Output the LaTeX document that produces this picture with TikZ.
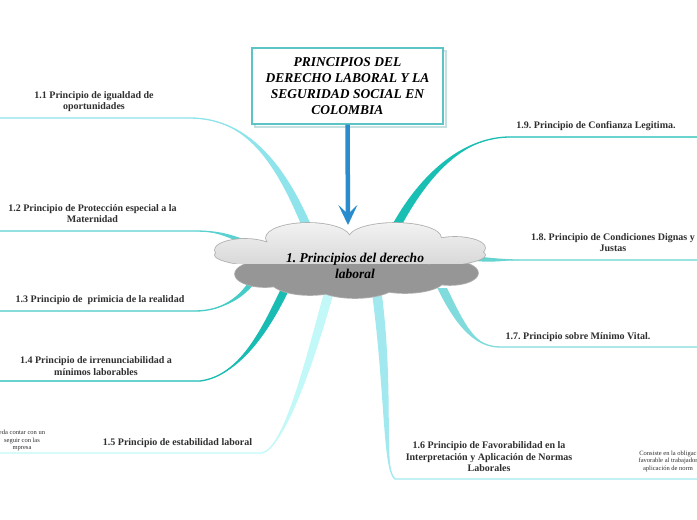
\documentclass[tikz,border=0pt]{standalone}
\usepackage{fontspec}
\setmainfont{Liberation Serif}
\usetikzlibrary{calc,arrows.meta}
\frenchspacing
\definecolor{cA}{HTML}{8FE3EA}
\definecolor{cB}{HTML}{5AD2D2}
\definecolor{cC}{HTML}{45CCC6}
\definecolor{cD}{HTML}{18BCB2}
\definecolor{cE}{HTML}{C2F8F8}
\definecolor{cF}{HTML}{A2E9EF}
\definecolor{cG}{HTML}{80DCDC}
\definecolor{cH}{HTML}{66D4D0}
\definecolor{cI}{HTML}{1ABFB4}
\definecolor{txt}{HTML}{2F2F2F}
\definecolor{boxline}{HTML}{5CC4C4}
\definecolor{boxshadow}{HTML}{C4E0E0}
\definecolor{arrowblue}{HTML}{2A8CCC}
\definecolor{cloudline}{HTML}{AFAFAF}
\definecolor{cloudtop}{HTML}{F2F2F2}
\definecolor{cloudmid}{HTML}{D4D4D4}
\definecolor{clouddark}{HTML}{969696}
\newcommand\tbranch[7]{%
  \fill[#1] (#3) .. controls (#4) and (#5) .. (#6) -- ($(#6)+(#7)$) .. controls ($(#5)+(#7)$) and (#4) .. (#3) -- cycle;
  \draw[#1, line width=1.3pt] (#2) -- (#3) .. controls (#4) and (#5) .. (#6);
}
\tikzset{
  lbl/.style={font=\fontsize{10}{11.5}\selectfont\bfseries, text=txt, align=center, inner sep=0pt},
  smalltxt/.style={font=\fontsize{6.5}{7.5}\selectfont, text=txt, align=center, inner sep=0pt},
  ttl/.style={font=\fontsize{13.5}{16}\selectfont\bfseries\itshape, align=center, draw=boxline, line width=1.2pt, fill=white, minimum width=191pt, minimum height=76pt, inner sep=0pt},
  cloudtxt/.style={font=\fontsize{13.5}{16}\selectfont\bfseries\itshape, align=center, inner sep=0pt},
  mainarrow/.style={draw=arrowblue, line width=4.5pt, -{Stealth[length=20pt, width=19pt, inset=9pt, fill=arrowblue]}}
}
\begin{document}
\begin{tikzpicture}[x=1pt,y=-1pt]
\useasboundingbox (0,0) rectangle (697,520);
\clip (0,0) rectangle (697,520);
\fill[white] (0,0) rectangle (697,520);
% coordinates
\coordinate (l11) at (0,118);   \coordinate (a11) at (190,118); \coordinate (b11) at (314,234);
\coordinate (l12) at (0,231);   \coordinate (a12) at (195,231); \coordinate (b12) at (258,246);
\coordinate (l13) at (0,311);   \coordinate (a13) at (195,311); \coordinate (b13) at (252,278);
\coordinate (l14) at (0,381);   \coordinate (a14) at (200,381); \coordinate (b14) at (282,288);
\coordinate (l15) at (0,453);   \coordinate (a15) at (262,453); \coordinate (b15) at (326,288);
\coordinate (l16) at (697,479); \coordinate (a16) at (395,479); \coordinate (b16) at (372,288);
\coordinate (l17) at (697,347); \coordinate (a17) at (500,347); \coordinate (b17) at (438,288);
\coordinate (l18) at (697,260); \coordinate (a18) at (520,260); \coordinate (b18) at (476,257);
\coordinate (l19) at (697,137); \coordinate (a19) at (510,137); \coordinate (b19) at (388,234);
% branches
\tbranch{cA}{l11}{a11}{250,118}{288,170}{b11}{-9,0}
\tbranch{cB}{l12}{a12}{220,231}{236,236}{b12}{0,5}
\tbranch{cC}{l13}{a13}{222,311}{240,298}{b13}{6,0}
\tbranch{cD}{l14}{a14}{240,376}{262,330}{b14}{8,0}
\tbranch{cE}{l15}{a15}{285,448}{306,360}{b15}{9,0}
\tbranch{cF}{l16}{a16}{383,470}{386,390}{b16}{9,0}
\tbranch{cG}{l17}{a17}{475,347}{456,325}{b17}{9,0}
\tbranch{cH}{l18}{a18}{505,260}{495,259}{b18}{0,4}
\tbranch{cI}{l19}{a19}{468,137}{422,168}{b19}{9,0}
% cloud bottom (dark)
\begin{scope}
  \clip (200,262) rectangle (500,320);
  \draw[cloudline, line width=1.6pt]
    (265,274) ellipse [x radius=30pt, y radius=13pt]
    (310,280) ellipse [x radius=40pt, y radius=15pt]
    (355,283) ellipse [x radius=42pt, y radius=15pt]
    (405,279) ellipse [x radius=40pt, y radius=14pt]
    (450,273) ellipse [x radius=28pt, y radius=12pt]
    (355,272) ellipse [x radius=115pt, y radius=10pt];
  \fill[clouddark]
    (265,274) ellipse [x radius=30pt, y radius=13pt]
    (310,280) ellipse [x radius=40pt, y radius=15pt]
    (355,283) ellipse [x radius=42pt, y radius=15pt]
    (405,279) ellipse [x radius=40pt, y radius=14pt]
    (450,273) ellipse [x radius=28pt, y radius=12pt]
    (355,272) ellipse [x radius=115pt, y radius=10pt];
\end{scope}
% cloud top (light)
\begin{scope}
  \clip (200,200) rectangle (500,263.3);
  \draw[cloudline, line width=1.6pt]
    (350,255) ellipse [x radius=135pt, y radius=16pt]
    (308,238) ellipse [x radius=42pt, y radius=15pt]
    (395,238) ellipse [x radius=46pt, y radius=15pt]
    (245,250) ellipse [x radius=30pt, y radius=11pt]
    (455,248) ellipse [x radius=30pt, y radius=11pt];
  \shade[top color=cloudtop, bottom color=cloudmid]
    (350,255) ellipse [x radius=135pt, y radius=16pt]
    (308,238) ellipse [x radius=42pt, y radius=15pt]
    (395,238) ellipse [x radius=46pt, y radius=15pt]
    (245,250) ellipse [x radius=30pt, y radius=11pt]
    (455,248) ellipse [x radius=30pt, y radius=11pt];
\end{scope}
\node[cloudtxt] (cloud) at (355,266) {1. Principios del derecho\\laboral};
\coordinate (cloudtopc) at (348,225);
% title
\draw[boxshadow, line width=1.2pt, fill=white] (255,51) rectangle (446,127);
\node[ttl] (title) at (347.5,86) {PRINCIPIOS DEL\\DERECHO LABORAL Y LA\\SEGURIDAD SOCIAL EN\\COLOMBIA};
\draw[mainarrow] (title.south) -- (cloudtopc);
% labels
\node[lbl] (n11) at (94,101.5) {1.1 Principio de igualdad de\\oportunidades};
\node[lbl] (n12) at (92.5,213.5) {1.2 Principio de Protección especial a la\\Maternidad};
\node[lbl] (n13) at (100,300.5) {1.3 Principio de~ primicia de la realidad};
\node[lbl] (n14) at (96,366) {1.4 Principio de irrenunciabilidad a\\mínimos laborables};
\node[lbl] (n15) at (177.5,443) {1.5 Principio de estabilidad laboral};
\node[smalltxt] (s15) at (22,440.5) {eda contar con un\\seguir con las\\mpresa};
\node[lbl] (n16) at (489,457) {1.6 Principio de Favorabilidad en la\\Interpretación y Aplicación de Normas\\Laborales};
\node[smalltxt] (s16) at (668,461) {Consiste en la obligac\\favorable al trabajador\\aplicación de norm};
\node[lbl] (n17) at (578,337) {1.7. Principio sobre Mínimo Vital.};
\node[lbl] (n18) at (613,242.5) {1.8. Principio de Condiciones Dignas y\\Justas};
\node[lbl] (n19) at (596,126) {1.9. Principio de Confianza Legitima.};
\end{tikzpicture}
\end{document}
